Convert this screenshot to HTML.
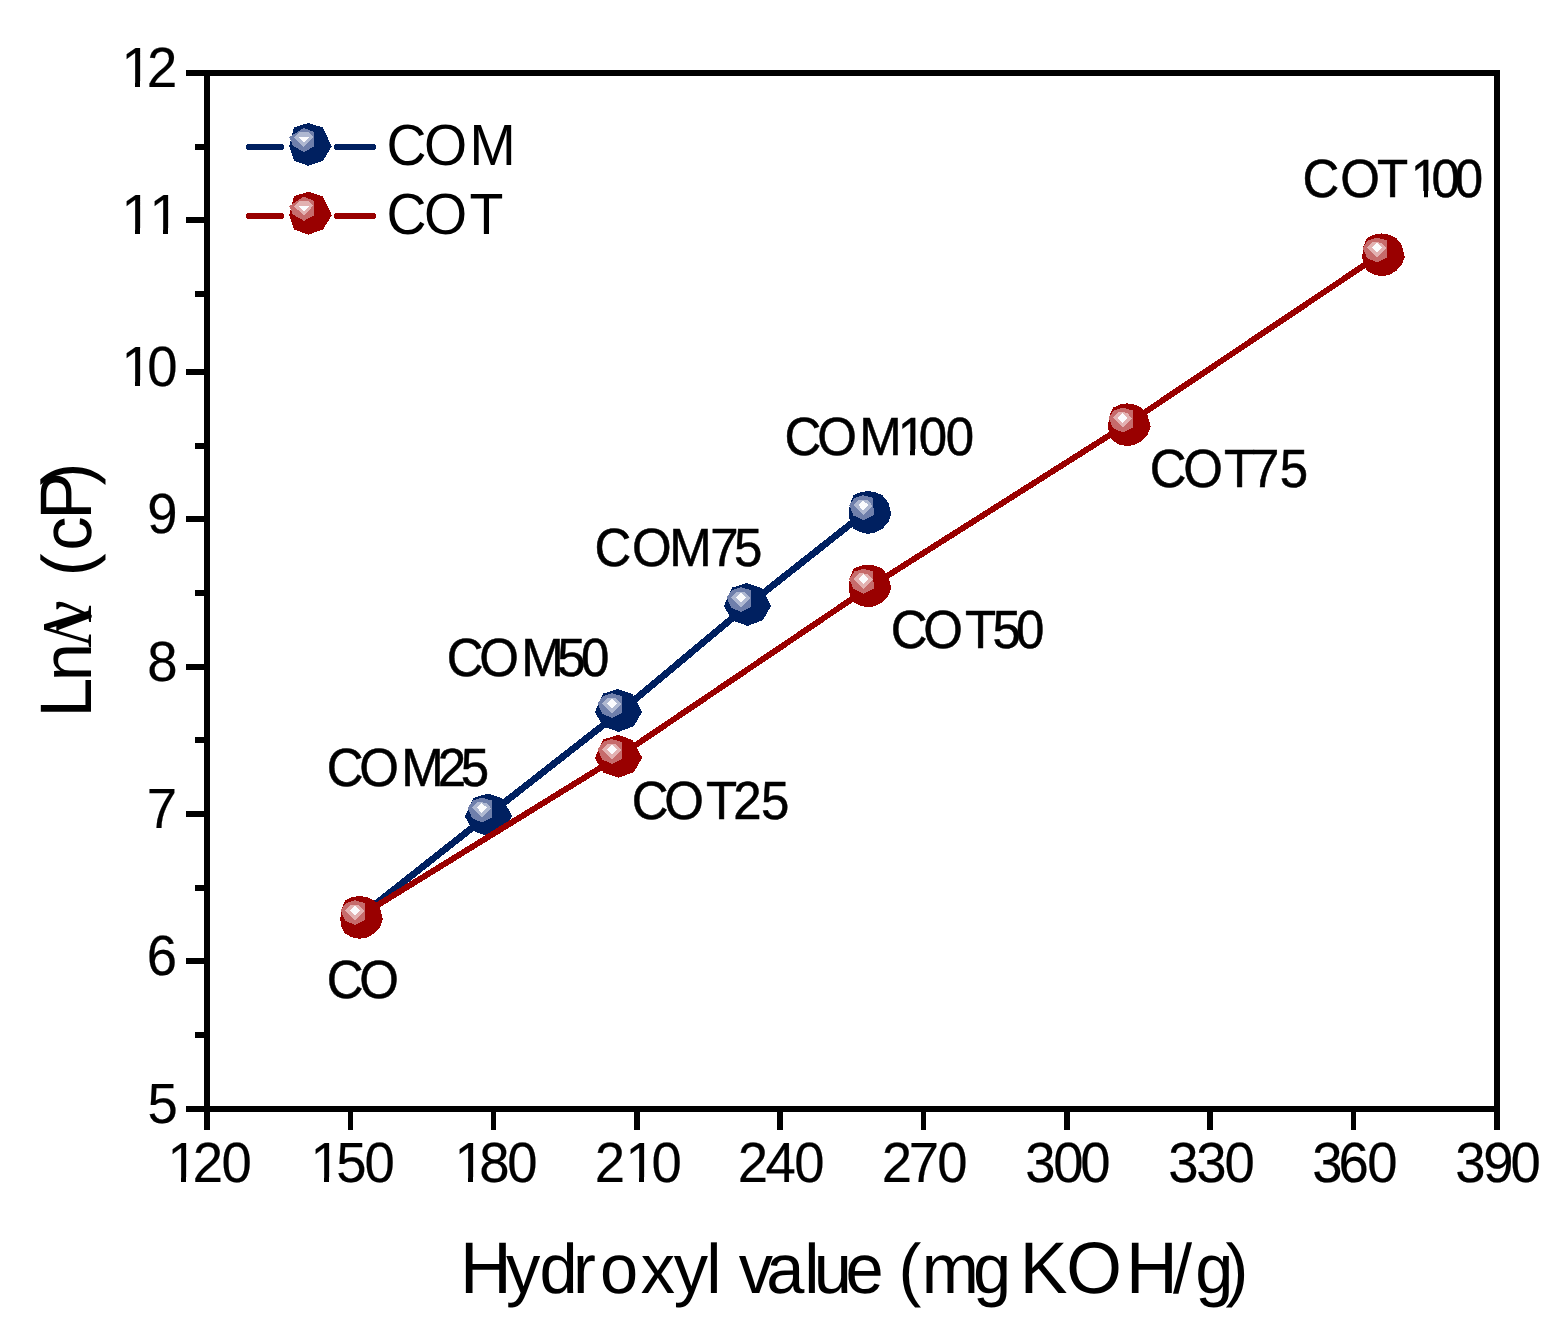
<!DOCTYPE html>
<html lang="en">
<head>
<meta charset="utf-8">
<title>Ln viscosity vs hydroxyl value</title>
<style>
html,body{margin:0;padding:0;background:#fff;}
body{width:1566px;height:1323px;overflow:hidden;}
svg{display:block;}
text{fill:#000;white-space:pre;}
</style>
</head>
<body>
<svg width="1566" height="1323" viewBox="0 0 1566 1323" shape-rendering="crispEdges" text-rendering="geometricPrecision">
<rect width="1566" height="1323" fill="#fff"/>
<rect x="186" y="70" width="1314" height="6" fill="#000"/>
<rect x="186" y="1106" width="1314" height="6" fill="#000"/>
<rect x="204" y="70" width="6" height="1060" fill="#000"/>
<rect x="1494" y="70" width="6" height="1060" fill="#000"/>
<rect x="186" y="217" width="19" height="6" fill="#000"/>
<rect x="186" y="369" width="19" height="6" fill="#000"/>
<rect x="186" y="516" width="19" height="6" fill="#000"/>
<rect x="186" y="664" width="19" height="6" fill="#000"/>
<rect x="186" y="811" width="19" height="6" fill="#000"/>
<rect x="186" y="958" width="19" height="6" fill="#000"/>
<rect x="195" y="144" width="10" height="6" fill="#000"/>
<rect x="195" y="291" width="10" height="6" fill="#000"/>
<rect x="195" y="443" width="10" height="6" fill="#000"/>
<rect x="195" y="590" width="10" height="6" fill="#000"/>
<rect x="195" y="737" width="10" height="6" fill="#000"/>
<rect x="195" y="885" width="10" height="6" fill="#000"/>
<rect x="195" y="1032" width="10" height="6" fill="#000"/>
<rect x="348" y="1111" width="5" height="19" fill="#000"/>
<rect x="491" y="1111" width="5" height="19" fill="#000"/>
<rect x="634" y="1111" width="6" height="19" fill="#000"/>
<rect x="777" y="1111" width="6" height="19" fill="#000"/>
<rect x="921" y="1111" width="5" height="19" fill="#000"/>
<rect x="1064" y="1111" width="6" height="19" fill="#000"/>
<rect x="1207" y="1111" width="6" height="19" fill="#000"/>
<rect x="1351" y="1111" width="5" height="19" fill="#000"/>
<polyline points="361.5,915.1 488.5,814.9 618.5,713.2 747.5,605.5 870,508.7" fill="none" stroke="#002060" stroke-width="6.8" stroke-linejoin="round" stroke-linecap="round"/>
<g transform="translate(488.5 815)"><polygon points="-0.6,-21.5 13.8,-16.6 17.3,-10.5 23.7,1.3 15.4,15.7 0,21.4 -15.3,16 -18.5,10.6 -23.6,1.6 -15.3,-16.9" fill="#002060"/><polygon points="-20.8,-7.2 -15.5,-14.5 -6.8,-17.3 3.4,-14.5 3.6,2.5 -6.5,7.6 -16.5,3" fill="#6f7fab"/><polygon points="-16.5,-7.2 -10.9,-12.8 -2.5,-12.3 2.9,-6.5 -6.5,2.8" fill="#afb8d1"/><polygon points="-11.6,-7.2 -6.6,-12 -1.6,-7.2 -6.6,-2" fill="#fbfbfd"/></g>
<g transform="translate(618.5 710.5)"><polygon points="-0.6,-21.5 13.8,-16.6 17.3,-10.5 23.7,1.3 15.4,15.7 0,21.4 -15.3,16 -18.5,10.6 -23.6,1.6 -15.3,-16.9" fill="#002060"/><polygon points="-20.8,-7.2 -15.5,-14.5 -6.8,-17.3 3.4,-14.5 3.6,2.5 -6.5,7.6 -16.5,3" fill="#6f7fab"/><polygon points="-16.5,-7.2 -10.9,-12.8 -2.5,-12.3 2.9,-6.5 -6.5,2.8" fill="#afb8d1"/><polygon points="-11.6,-7.2 -6.6,-12 -1.6,-7.2 -6.6,-2" fill="#fbfbfd"/></g>
<g transform="translate(747.5 604.5)"><polygon points="-0.6,-21.5 13.8,-16.6 17.3,-10.5 23.7,1.3 15.4,15.7 0,21.4 -15.3,16 -18.5,10.6 -23.6,1.6 -15.3,-16.9" fill="#002060"/><polygon points="-20.8,-7.2 -15.5,-14.5 -6.8,-17.3 3.4,-14.5 3.6,2.5 -6.5,7.6 -16.5,3" fill="#6f7fab"/><polygon points="-16.5,-7.2 -10.9,-12.8 -2.5,-12.3 2.9,-6.5 -6.5,2.8" fill="#afb8d1"/><polygon points="-11.6,-7.2 -6.6,-12 -1.6,-7.2 -6.6,-2" fill="#fbfbfd"/></g>
<g transform="translate(870 512.5)"><polygon points="-2.2,-21.5 5.5,-20.3 12.6,-17.1 18.3,-10 21.3,1.8 18.5,9.5 12.6,16.1 5.5,20 -2.2,21.4 -10,19.6 -16.5,16.1 -20,9.5 -21.3,2 -20.2,-8 -16.5,-17.1 -10,-20.2" fill="#002060"/><polygon points="-20.8,-7.2 -15.5,-14.5 -6.8,-17.3 3.4,-14.5 3.6,2.5 -6.5,7.6 -16.5,3" fill="#6f7fab"/><polygon points="-16.5,-7.2 -10.9,-12.8 -2.5,-12.3 2.9,-6.5 -6.5,2.8" fill="#afb8d1"/><polygon points="-11.6,-7.2 -6.6,-12 -1.6,-7.2 -6.6,-2" fill="#fbfbfd"/></g>
<polyline points="361.5,915.1 618.5,756.65 870,586.85 1129.3,422.7 1383.5,252.3" fill="none" stroke="#990000" stroke-width="6" stroke-linejoin="round" stroke-linecap="round"/>
<g transform="translate(361.5 917.5)"><polygon points="-2.2,-21.5 5.5,-20.3 12.6,-17.1 18.3,-10 21.3,1.8 18.5,9.5 12.6,16.1 5.5,20 -2.2,21.4 -10,19.6 -16.5,16.1 -20,9.5 -21.3,2 -20.2,-8 -16.5,-17.1 -10,-20.2" fill="#990000"/><polygon points="-20.8,-7.2 -15.5,-14.5 -6.8,-17.3 3.4,-14.5 3.6,2.5 -6.5,7.6 -16.5,3" fill="#c66b6b"/><polygon points="-16.5,-7.2 -10.9,-12.8 -2.5,-12.3 2.9,-6.5 -6.5,2.8" fill="#e2b1b1"/><polygon points="-11.6,-7.2 -6.6,-12 -1.6,-7.2 -6.6,-2" fill="#fbfbfd"/></g>
<g transform="translate(618.5 756.4)"><polygon points="-0.6,-21.5 13.8,-16.6 17.3,-10.5 23.7,1.3 15.4,15.7 0,21.4 -15.3,16 -18.5,10.6 -23.6,1.6 -15.3,-16.9" fill="#990000"/><polygon points="-20.8,-7.2 -15.5,-14.5 -6.8,-17.3 3.4,-14.5 3.6,2.5 -6.5,7.6 -16.5,3" fill="#c66b6b"/><polygon points="-16.5,-7.2 -10.9,-12.8 -2.5,-12.3 2.9,-6.5 -6.5,2.8" fill="#e2b1b1"/><polygon points="-11.6,-7.2 -6.6,-12 -1.6,-7.2 -6.6,-2" fill="#fbfbfd"/></g>
<g transform="translate(870 586)"><polygon points="-2.2,-21.5 5.5,-20.3 12.6,-17.1 18.3,-10 21.3,1.8 18.5,9.5 12.6,16.1 5.5,20 -2.2,21.4 -10,19.6 -16.5,16.1 -20,9.5 -21.3,2 -20.2,-8 -16.5,-17.1 -10,-20.2" fill="#990000"/><polygon points="-20.8,-7.2 -15.5,-14.5 -6.8,-17.3 3.4,-14.5 3.6,2.5 -6.5,7.6 -16.5,3" fill="#c66b6b"/><polygon points="-16.5,-7.2 -10.9,-12.8 -2.5,-12.3 2.9,-6.5 -6.5,2.8" fill="#e2b1b1"/><polygon points="-11.6,-7.2 -6.6,-12 -1.6,-7.2 -6.6,-2" fill="#fbfbfd"/></g>
<g transform="translate(1129.3 424.9)"><polygon points="-2.2,-21.5 5.5,-20.3 12.6,-17.1 18.3,-10 21.3,1.8 18.5,9.5 12.6,16.1 5.5,20 -2.2,21.4 -10,19.6 -16.5,16.1 -20,9.5 -21.3,2 -20.2,-8 -16.5,-17.1 -10,-20.2" fill="#990000"/><polygon points="-20.8,-7.2 -15.5,-14.5 -6.8,-17.3 3.4,-14.5 3.6,2.5 -6.5,7.6 -16.5,3" fill="#c66b6b"/><polygon points="-16.5,-7.2 -10.9,-12.8 -2.5,-12.3 2.9,-6.5 -6.5,2.8" fill="#e2b1b1"/><polygon points="-11.6,-7.2 -6.6,-12 -1.6,-7.2 -6.6,-2" fill="#fbfbfd"/></g>
<g transform="translate(1383.5 254.9)"><polygon points="-2.2,-21.5 5.5,-20.3 12.6,-17.1 18.3,-10 21.3,1.8 18.5,9.5 12.6,16.1 5.5,20 -2.2,21.4 -10,19.6 -16.5,16.1 -20,9.5 -21.3,2 -20.2,-8 -16.5,-17.1 -10,-20.2" fill="#990000"/><polygon points="-20.8,-7.2 -15.5,-14.5 -6.8,-17.3 3.4,-14.5 3.6,2.5 -6.5,7.6 -16.5,3" fill="#c66b6b"/><polygon points="-16.5,-7.2 -10.9,-12.8 -2.5,-12.3 2.9,-6.5 -6.5,2.8" fill="#e2b1b1"/><polygon points="-11.6,-7.2 -6.6,-12 -1.6,-7.2 -6.6,-2" fill="#fbfbfd"/></g>
<path d="M249 147 H281 M337 147 H373" stroke="#002060" stroke-width="6" stroke-linecap="round" fill="none"/>
<g transform="translate(310.5 144.5)"><polygon points="-2.2,-21.5 12.1,-17.1 21.3,1.8 12.6,16.1 -2.2,21.4 -16.5,16.1 -21.3,2 -16.5,-17.1" fill="#002060"/><polygon points="-21.3,-7.2 -6.8,-16.6 3.4,-12.5 3.4,2 -6.5,7.6 -17.5,1.3" fill="#6f7fab"/><polygon points="-16.5,-7.2 -10.9,-12.3 -1.7,-12.3 2.9,-7.9 -6.5,2.5" fill="#afb8d1"/><polygon points="-11.6,-7.4 -1.4,-7.4 -6.5,-1.5" fill="#fbfbfd"/></g>
<path d="M249 216 H281 M337 216 H373" stroke="#990000" stroke-width="6" stroke-linecap="round" fill="none"/>
<g transform="translate(310.5 213.3)"><polygon points="-2.2,-21.5 12.1,-17.1 21.3,1.8 12.6,16.1 -2.2,21.4 -16.5,16.1 -21.3,2 -16.5,-17.1" fill="#990000"/><polygon points="-21.3,-7.2 -6.8,-16.6 3.4,-12.5 3.4,2 -6.5,7.6 -17.5,1.3" fill="#c66b6b"/><polygon points="-16.5,-7.2 -10.9,-12.3 -1.7,-12.3 2.9,-7.9 -6.5,2.5" fill="#e2b1b1"/><polygon points="-11.6,-7.4 -1.4,-7.4 -6.5,-1.5" fill="#fbfbfd"/></g>
<text transform="scale(1.0 1.0476)" x="386.51 423.88 469.38" y="157.5" font-family='"Liberation Sans", sans-serif' font-size="55.5">COM</text>
<text transform="scale(1.0 1.0476)" x="386.51 423.88 469.51" y="223.37" font-family='"Liberation Sans", sans-serif' font-size="55.5">COT</text>
<text transform="scale(1.0 1.0545)" x="1302.61 1340.28 1376.89 1410.77 1431.57 1454.87" y="186.82" font-family='"Liberation Sans", sans-serif' font-size="51" stroke="#000" stroke-width="0.5">COT100</text>
<text transform="scale(1.0 1.0545)" x="784.61 817.18 859.21 897.67 918.67 945.77" y="431.48" font-family='"Liberation Sans", sans-serif' font-size="51" stroke="#000" stroke-width="0.5">COM100</text>
<text transform="scale(1.0 1.0545)" x="1149.66 1183.28 1223.94 1251.04 1279.87" y="461.83" font-family='"Liberation Sans", sans-serif' font-size="51" stroke="#000" stroke-width="0.5">COT75</text>
<text transform="scale(1.0 1.0545)" x="594.61 631.98 669.26 710.29 733.92" y="536.75" font-family='"Liberation Sans", sans-serif' font-size="51" stroke="#000" stroke-width="0.5">COM75</text>
<text transform="scale(1.0 1.0545)" x="890.71 923.28 964.94 992.47 1015.97" y="614.51" font-family='"Liberation Sans", sans-serif' font-size="51" stroke="#000" stroke-width="0.5">COT50</text>
<text transform="scale(1.0 1.0545)" x="446.66 479.23 521.26 557.22 580.97" y="641.06" font-family='"Liberation Sans", sans-serif' font-size="51" stroke="#000" stroke-width="0.5">COM50</text>
<text transform="scale(1.0 1.0545)" x="326.66 359.23 401.26 437.67 460.82" y="745.38" font-family='"Liberation Sans", sans-serif' font-size="51" stroke="#000" stroke-width="0.5">COM25</text>
<text transform="scale(1.0 1.0545)" x="631.66 664.23 705.94 733.27 760.97" y="776.67" font-family='"Liberation Sans", sans-serif' font-size="51" stroke="#000" stroke-width="0.5">COT25</text>
<text transform="scale(1.0 1.0545)" x="326.66 359.23" y="946.42" font-family='"Liberation Sans", sans-serif' font-size="51" stroke="#000" stroke-width="0.5">CO</text>
<text transform="scale(1.0 1.04)" x="121.48 146.89" y="83.65" font-family='"Liberation Sans", sans-serif' font-size="54.5" stroke="#000" stroke-width="0.2">12</text>
<text transform="scale(1.0 1.04)" x="121.48 149.48" y="225" font-family='"Liberation Sans", sans-serif' font-size="54.5" stroke="#000" stroke-width="0.2">11</text>
<text transform="scale(1.0 1.04)" x="121.48 147.34" y="371.15" font-family='"Liberation Sans", sans-serif' font-size="54.5" stroke="#000" stroke-width="0.2">10</text>
<text transform="scale(1.0 1.04)" x="147.31" y="512.5" font-family='"Liberation Sans", sans-serif' font-size="54.5" stroke="#000" stroke-width="0.2">9</text>
<text transform="scale(1.0 1.04)" x="147.29" y="654.81" font-family='"Liberation Sans", sans-serif' font-size="54.5" stroke="#000" stroke-width="0.2">8</text>
<text transform="scale(1.0 1.04)" x="146.87" y="796.15" font-family='"Liberation Sans", sans-serif' font-size="54.5" stroke="#000" stroke-width="0.2">7</text>
<text transform="scale(1.0 1.04)" x="146.71" y="937.5" font-family='"Liberation Sans", sans-serif' font-size="54.5" stroke="#000" stroke-width="0.2">6</text>
<text transform="scale(1.0 1.04)" x="147.4" y="1079.81" font-family='"Liberation Sans", sans-serif' font-size="54.5" stroke="#000" stroke-width="0.2">5</text>
<text transform="scale(1.0 1.04)" x="167.53 192.79 221.54" y="1136.92" font-family='"Liberation Sans", sans-serif' font-size="54.5" stroke="#000" stroke-width="0.2">120</text>
<text transform="scale(1.0 1.04)" x="310.48 336.3 364.39" y="1136.92" font-family='"Liberation Sans", sans-serif' font-size="54.5" stroke="#000" stroke-width="0.2">150</text>
<text transform="scale(1.0 1.04)" x="454.43 479.19 507.34" y="1136.92" font-family='"Liberation Sans", sans-serif' font-size="54.5" stroke="#000" stroke-width="0.2">180</text>
<text transform="scale(1.0 1.04)" x="594.79 625.58 651.44" y="1136.92" font-family='"Liberation Sans", sans-serif' font-size="54.5" stroke="#000" stroke-width="0.2">210</text>
<text transform="scale(1.0 1.04)" x="737.84 765.47 794.34" y="1136.92" font-family='"Liberation Sans", sans-serif' font-size="54.5" stroke="#000" stroke-width="0.2">240</text>
<text transform="scale(1.0 1.04)" x="881.74 908.82 937.29" y="1136.92" font-family='"Liberation Sans", sans-serif' font-size="54.5" stroke="#000" stroke-width="0.2">270</text>
<text transform="scale(1.0 1.04)" x="1025.35 1053.19 1080.29" y="1136.92" font-family='"Liberation Sans", sans-serif' font-size="54.5" stroke="#000" stroke-width="0.2">300</text>
<text transform="scale(1.0 1.04)" x="1168.3 1196.35 1224.39" y="1136.92" font-family='"Liberation Sans", sans-serif' font-size="54.5" stroke="#000" stroke-width="0.2">330</text>
<text transform="scale(1.0 1.04)" x="1312.3 1338.56 1367.29" y="1136.92" font-family='"Liberation Sans", sans-serif' font-size="54.5" stroke="#000" stroke-width="0.2">360</text>
<text transform="scale(1.0 1.04)" x="1455.3 1483.16 1510.54" y="1136.92" font-family='"Liberation Sans", sans-serif' font-size="54.5" stroke="#000" stroke-width="0.2">390</text>
<text transform="scale(1.0 1.02)" y="1267.65" font-family='"Liberation Sans", sans-serif' font-size="71.57"><tspan x="459.89" font-size="71.57">H</tspan><tspan x="505.98 539.59 573.06 600.07 640.78 673.83 706.21 721.46 738.64 766.36 804.26 813.87 845.58 883.75 898.4 921.75 973.09 1011.25" font-size="68.63">ydroxyl value (mg </tspan><tspan x="1019.85 1066.13 1125.89" font-size="71.57">KOH</tspan><tspan x="1172.97 1195.14 1225.4" font-size="68.63">/g)</tspan></text>
<text transform="translate(91 710.9) rotate(-90) scale(1.0 1.02)" y="0" font-family='"Liberation Sans", sans-serif' font-size="71.57"><tspan x="-6.6" font-size="71.57">L</tspan><tspan x="29.77" font-size="68.63">n</tspan></text>
<text transform="translate(91 710.9) rotate(-90) scale(0.9449 1.1486)" x="66.91" y="0" font-family='"Liberation Serif", serif' font-size="62">Λ</text>
<text transform="translate(91 710.9) rotate(-90) scale(1.0 1.05)" x="78.33" y="0" font-family='"Liberation Serif", serif' font-size="72">ν</text>
<text transform="translate(91 710.9) rotate(-90) scale(1.0 1.02)" y="0" font-family='"Liberation Sans", sans-serif' font-size="71.57"><tspan x="134.75 160.24" font-size="68.63">(c</tspan><tspan x="191.18" font-size="71.57">P</tspan><tspan x="225.4" font-size="68.63">)</tspan></text>
<rect x="1413.95" y="191.38" width="9.64" height="6.82" fill="#fff"/>
<rect x="1428.1" y="191.38" width="9.2" height="6.82" fill="#fff"/>
<rect x="900.85" y="449.38" width="9.64" height="6.82" fill="#fff"/>
<rect x="915" y="449.38" width="9.2" height="6.82" fill="#fff"/>
<rect x="124.93" y="81.17" width="10.25" height="7.03" fill="#fff"/>
<rect x="140" y="81.17" width="9" height="7.03" fill="#fff"/>
<rect x="124.93" y="228.17" width="10.25" height="7.03" fill="#fff"/>
<rect x="140" y="228.17" width="10.13" height="7.03" fill="#fff"/>
<rect x="152.93" y="228.17" width="10.25" height="7.03" fill="#fff"/>
<rect x="168" y="228.17" width="10.13" height="7.03" fill="#fff"/>
<rect x="124.93" y="380.17" width="10.25" height="7.03" fill="#fff"/>
<rect x="140" y="380.17" width="10.13" height="7.03" fill="#fff"/>
<rect x="170.98" y="1176.57" width="10.25" height="7.03" fill="#fff"/>
<rect x="186.05" y="1176.57" width="8.85" height="7.03" fill="#fff"/>
<rect x="313.93" y="1176.57" width="10.25" height="7.03" fill="#fff"/>
<rect x="329" y="1176.57" width="10.13" height="7.03" fill="#fff"/>
<rect x="457.88" y="1176.57" width="10.25" height="7.03" fill="#fff"/>
<rect x="472.95" y="1176.57" width="10.13" height="7.03" fill="#fff"/>
<rect x="629.03" y="1176.57" width="10.25" height="7.03" fill="#fff"/>
<rect x="644.1" y="1176.57" width="10.13" height="7.03" fill="#fff"/>
</svg>
</body>
</html>
